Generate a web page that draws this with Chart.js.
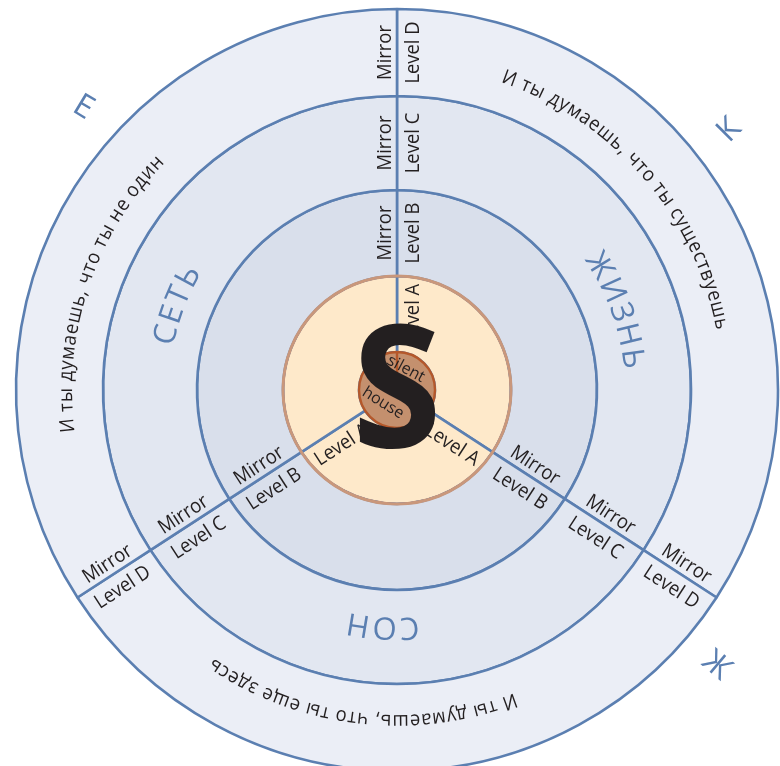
<!DOCTYPE html>
<html>
<head>
<meta charset="utf-8">
<script src="https://cdn.jsdelivr.net/npm/chart.js@4.4.1/dist/chart.umd.min.js"></script>
<style>
html, body { margin:0; padding:0; background:#fff; overflow:hidden; }
#box { position:absolute; left:0; top:0; width:780px; height:766px; }
</style>
</head>
<body>
<div id="box"><canvas id="rings" width="780" height="766"></canvas></div>
<script>
// sectors, clockwise from the top spoke
const sectors = ['ЖИЗНЬ', 'СОН', 'СЕТЬ']
const sectorSpan = [123, 114, 123]          // degrees
const levels = ['Level D', 'Level C', 'Level B', 'Level A']
const ringWidth = [87, 94, 86, 76, 38]      // outer ring -> core
const phrases = ['И ты думаешь, что ты существуешь', 'И ты думаешь, что ты еще здесь', 'И ты думаешь, что ты не один']
const glyphs = ['К', 'Ж', 'Е']
const coreWords = ['silent', 'house']

const blue = '#5b7fb1'
const ink = '#231f20'
const fills = ['#ebeef6', '#e2e7f1', '#d9dfeb', '#fee9ca']

const datasets = levels.map(function(lv, i){
  return {
    label: lv,
    data: sectorSpan.slice(),
    backgroundColor: fills[i],
    borderColor: blue,
    borderWidth: 2.6,
    weight: ringWidth[i]
  }
})
datasets.push({
  label: 'core',
  data: [360],
  backgroundColor: '#c4906e',
  borderColor: '#b5582a',
  borderWidth: 2.4,
  weight: ringWidth[4],
  order: -1
})

const rad = d => d * Math.PI / 180

// text bent along a circle, read clockwise, tops pointing outward
function arcText(ctx, str, cx, cy, r, mid, spacing, sx){
  const chars = [...str]
  const w = chars.map(ch => ctx.measureText(ch).width * sx)
  const total = w.reduce((a, b) => a + b, 0) + spacing * (chars.length - 1)
  let a = mid - total / 2 / r
  chars.forEach(function(ch, i){
    const ac = a + w[i] / 2 / r
    ctx.save()
    ctx.translate(cx + r * Math.cos(ac), cy + r * Math.sin(ac))
    ctx.rotate(ac + Math.PI / 2)
    ctx.scale(sx, 1)
    ctx.textAlign = 'center'
    ctx.textBaseline = 'alphabetic'
    ctx.fillText(ch, 0, 0)
    ctx.restore()
    a += (w[i] + spacing) / r
  })
}

const decor = {
  id: 'decor',
  afterDatasetsDraw(chart){
    const ctx = chart.ctx
    const arcs = chart.getDatasetMeta(0).data
    const cx = arcs[0].x, cy = arcs[0].y
    const ring = i => chart.getDatasetMeta(i).data[0]
    const spokes = arcs.map(a => a.startAngle)

    // rim of the orange disc
    ctx.save()
    ctx.strokeStyle = '#c9977b'
    ctx.lineWidth = 3
    ctx.beginPath()
    ctx.arc(cx, cy, ring(3).outerRadius, 0, Math.PI * 2)
    ctx.stroke()
    ctx.restore()

    // labels along the spokes
    ctx.save()
    ctx.fillStyle = ink
    ctx.font = '20px "Open Sans"'
    ctx.textAlign = 'center'
    ctx.textBaseline = 'alphabetic'
    spokes.forEach(function(ang){
      levels.forEach(function(lv, i){
        const el = ring(i)
        const r = (el.innerRadius + el.outerRadius) / 2
        const rot = Math.cos(ang) < -0.01 ? ang - Math.PI : ang
        ctx.save()
        ctx.translate(cx + r * Math.cos(ang), cy + r * Math.sin(ang))
        ctx.rotate(rot)
        ctx.scale(0.92, 1)
        if (i < 3) ctx.fillText('Mirror', 0, -6)
        ctx.fillText(lv, 0, 22)
        ctx.restore()
      })
    })
    ctx.restore()

    // phrases in the outer ring
    const phraseAt = [-41, 96.6, 198.5]
    ctx.save()
    ctx.fillStyle = ink
    ctx.font = '20px "Open Sans"'
    phrases.forEach(function(p, i){
      arcText(ctx, p, cx, cy, ring(0).innerRadius + 31, rad(phraseAt[i]), 0.8, 0.92)
    })
    ctx.restore()

    // sector names
    const wordAt = [-20, 93.4, 201]
    ctx.save()
    ctx.fillStyle = blue
    ctx.font = '31px "Open Sans"'
    sectors.forEach(function(s, i){
      arcText(ctx, s, cx, cy, ring(1).innerRadius + 28, rad(wordAt[i]), 2, 1)
    })
    ctx.restore()

    // marks outside the rings
    const glyphAt = [-38, 40.8, 222]
    const glyphTurn = [-45, 40, 31]
    ctx.save()
    ctx.fillStyle = blue
    ctx.font = '32px "Open Sans"'
    ctx.textAlign = 'center'
    ctx.textBaseline = 'middle'
    glyphs.forEach(function(g, i){
      const r = ring(0).outerRadius + 41
      ctx.save()
      ctx.translate(cx + r * Math.cos(rad(glyphAt[i])), cy + r * Math.sin(rad(glyphAt[i])))
      ctx.rotate(rad(glyphTurn[i]))
      ctx.fillText(g, 0, 0)
      ctx.restore()
    })
    ctx.restore()

    // core words and the S
    ctx.save()
    ctx.fillStyle = ink
    ctx.font = '16px "Open Sans"'
    ctx.textAlign = 'center'
    ctx.textBaseline = 'middle'
    ctx.save(); ctx.translate(cx + 9, cy - 21); ctx.rotate(rad(28)); ctx.fillText(coreWords[0], 0, 0); ctx.restore()
    ctx.save(); ctx.translate(cx - 14, cy + 13); ctx.rotate(rad(32)); ctx.fillText(coreWords[1], 0, 0); ctx.restore()
    ctx.font = 'bold 170px "Open Sans"'
    ctx.textBaseline = 'alphabetic'
    ctx.translate(cx, cy + 57)
    ctx.scale(0.95, 1)
    ctx.fillText('S', 0, 0)
    ctx.restore()
  }
}

new Chart(document.getElementById('rings'), {
  type: 'doughnut',
  data: { labels: sectors, datasets: datasets },
  options: {
    responsive: false,
    animation: false,
    devicePixelRatio: 1,
    events: [],
    cutout: 0,
    radius: 381,
    rotation: 0,
    layout: { padding: { left: 14, top: 14, right: 0, bottom: 0 } },
    plugins: { legend: { display: false }, tooltip: { enabled: false } }
  },
  plugins: [decor]
})
</script>
</body>
</html>
